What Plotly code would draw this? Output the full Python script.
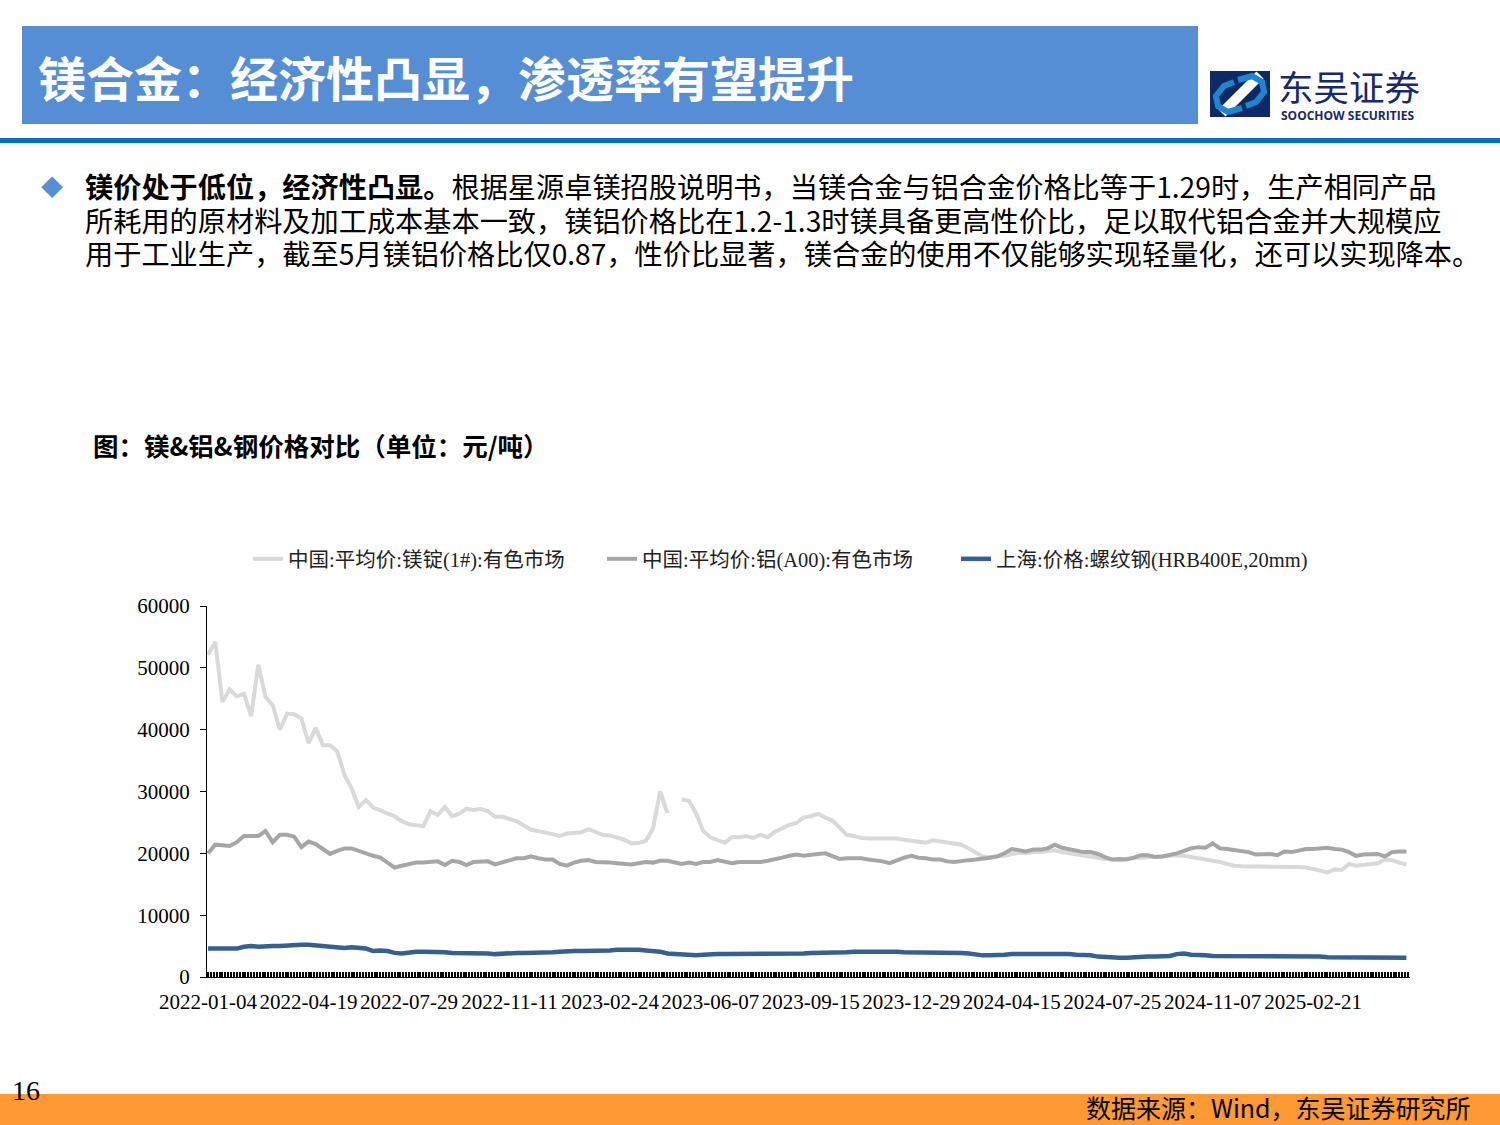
import plotly.graph_objects as go

# ---------------- data (sampled about every 5 trading days) ----------------
tick_labels = ["2022-01-04", "2022-04-19", "2022-07-29", "2022-11-11", "2023-02-24",
               "2023-06-07", "2023-09-15", "2023-12-29", "2024-04-15", "2024-07-25",
               "2024-11-07", "2025-02-21"]
samples_per_label = 14

mg_name = "中国:平均价:镁锭(1#):有色市场"
al_name = "中国:平均价:铝(A00):有色市场"
steel_name = "上海:价格:螺纹钢(HRB400E,20mm)"

mg_price = [
    52100, 54200, 44500, 46500, 45400, 45800, 42200, 50500, 45300, 44000,
    40000, 42600, 42500, 41800, 37800, 40300, 37500, 37500, 36500, 32700,
    30500, 27500, 28600, 27400, 27000, 26400, 26000, 25200, 24700, 24600,
    24400, 26800, 26200, 27500, 26000, 26400, 27200, 27000, 27200, 26800,
    25900, 25900, 25600, 25200, 24500, 23800, 23600, 23400, 23100, 22800,
    23200, 23300, 23400, 23900, 23500, 23000, 22900, 22500, 22200, 21600,
    21700, 22000, 24000, 30000, 26500, None, 28700, 28500, 26500, 23600,
    22600, 22200, 21700, 22600, 22600, 22800, 22500, 23000, 22600, 23500,
    24000, 24600, 24900, 25800, 26000, 26400, 25800, 25300, 24200, 23000,
    22800, 22500, 22400, 22400, 22400, 22400, 22400, 22200, 22000, 21800,
    21700, 22100, 21900, 21800, 21600, 21400, 20800, 20100, 19500, 19400,
    19500, 19600, 19900, 20100, 20000, 20200, 20200, 20300, 20500, 20200,
    20000, 19800, 19700, 19500, 19300, 19100, 19000, 18900, 19100, 19300,
    19300, 19400, 19500, 19600, 19700, 19700, 19600, 19400, 19300, 19100,
    18900, 18600, 18300, 18000, 17900, 17900, 17900, 17900, 17900, 17900,
    17900, 17900, 17800, 17700, 17500, 17200, 16900, 17400, 17300, 18300,
    18000, 18100, 18200, 18400, 19000, 18900, 18500, 18200,
]

al_price = [
    20000, 21400, 21300, 21200, 21800, 22800, 22800, 22800, 23600, 21800,
    23000, 23000, 22700, 21000, 21900, 21500, 20700, 19900, 20400, 20800,
    20800, 20400, 19900, 19600, 19300, 18500, 17700, 18000, 18200, 18500,
    18500, 18600, 18700, 18100, 18800, 18600, 18100, 18600, 18600, 18700,
    18200, 18500, 18900, 19200, 19200, 19500, 19200, 19000, 19000, 18300,
    18000, 18500, 18800, 18900, 18600, 18600, 18500, 18400, 18300, 18200,
    18400, 18600, 18500, 18800, 18800, 18600, 18300, 18500, 18300, 18600,
    18600, 18900, 18700, 18400, 18600, 18600, 18600, 18600, 18800, 19000,
    19300, 19600, 19800, 19600, 19800, 19900, 20000, 19500, 19100, 19200,
    19200, 19200, 19000, 18900, 18700, 18400, 18900, 19300, 19600, 19300,
    19200, 19000, 19000, 18700, 18600, 18800, 18900, 19000, 19100, 19300,
    19500, 20000, 20700, 20500, 20300, 20600, 20600, 20800, 21400, 20900,
    20700, 20400, 20200, 20200, 19900, 19400, 19000, 19100, 19000, 19300,
    19700, 19700, 19400, 19500, 19700, 20000, 20400, 20800, 21000, 20900,
    21600, 20800, 20700, 20500, 20400, 20200, 19800, 19800, 19900, 19700,
    20300, 20200, 20400, 20700, 20700, 20800, 20900, 20700, 20600, 20200,
    19600, 19800, 19900, 19900, 19500, 20200, 20300, 20300,
]

steel_price = [
    4600, 4600, 4600, 4600, 4600, 4900, 5000, 4900, 5000, 5000,
    5000, 5100, 5200, 5200, 5200, 5100, 5100, 5000, 4800, 4700,
    4800, 4700, 4600, 4200, 4300, 4200, 3900, 3800, 4000, 4100,
    4100, 4100, 4100, 4000, 3900, 3900, 3900, 3900, 3800, 3800,
    3700, 3800, 3800, 3900, 3900, 3900, 3900, 4000, 4000, 4100,
    4200, 4200, 4200, 4200, 4200, 4300, 4300, 4400, 4400, 4500,
    4400, 4300, 4200, 4100, 3800, 3700, 3700, 3600, 3500, 3600,
    3700, 3700, 3700, 3700, 3700, 3700, 3700, 3700, 3700, 3700,
    3700, 3800, 3800, 3800, 3900, 3900, 3900, 4000, 4000, 4000,
    4100, 4100, 4200, 4200, 4100, 4100, 4100, 4000, 4000, 4000,
    3900, 3900, 3900, 4000, 4000, 3900, 3800, 3600, 3500, 3500,
    3500, 3600, 3700, 3700, 3700, 3800, 3800, 3800, 3800, 3700,
    3700, 3600, 3600, 3500, 3300, 3200, 3100, 3100, 3100, 3200,
    3200, 3300, 3300, 3300, 3400, 3700, 3800, 3600, 3600, 3500,
    3400, 3400, 3400, 3400, 3400, 3400, 3400, 3300, 3300, 3300,
    3300, 3300, 3300, 3300, 3300, 3300, 3200, 3200, 3200, 3200,
    3200, 3200, 3200, 3200, 3100, 3100, 3100, 3100,
]

body_lines = [
    "<b>镁价处于低位，经济性凸显。</b>根据星源卓镁招股说明书，当镁合金与铝合金价格比等于1.29时，生产相同产品",
    "所耗用的原材料及加工成本基本一致，镁铝价格比在1.2-1.3时镁具备更高性价比，足以取代铝合金并大规模应",
    "用于工业生产，截至5月镁铝价格比仅0.87，性价比显著，镁合金的使用不仅能够实现轻量化，还可以实现降本。",
]

# ---------------- page geometry ----------------
W, H = 1500, 1125
L, R, T, B = 207, 90, 606, 148
PW, PH = W - L - R, H - T - B


def fx(px):
    return (px - L) / PW


def fy(py):
    return (H - B - py) / PH


def path_of(points):
    return "M " + " L ".join(f"{fx(x):.5f},{fy(y):.5f}" for x, y in points)


CJK = "Noto Sans CJK SC"
SERIF = "Liberation Serif, Noto Sans CJK SC"

fig = go.Figure()
fig.add_trace(go.Scatter(y=mg_price, name=mg_name, mode="lines",
                         line=dict(color="#D9D9D9", width=4)))
fig.add_trace(go.Scatter(y=al_price, name=al_name, mode="lines",
                         line=dict(color="#A6A6A6", width=4)))
fig.add_trace(go.Scatter(y=steel_price, name=steel_name, mode="lines",
                         line=dict(color="#376092", width=4.5)))

tick_pos = [i * samples_per_label for i in range(len(tick_labels))]

fig.update_xaxes(
    range=[-0.15, 167.5], tickmode="array", tickvals=tick_pos, ticktext=tick_labels,
    showline=True, linecolor="black", linewidth=1, showgrid=False, zeroline=False,
    ticks="inside", ticklen=5, tickwidth=2, tickcolor="black", tickangle=0,
    tickfont=dict(family="Liberation Serif", size=21, color="black"),
    ticklabelstandoff=6,
    minor=dict(ticks="inside", dtick=0.4, tick0=0, ticklen=5, tickwidth=2,
               tickcolor="black", showgrid=False),
)
fig.update_yaxes(
    range=[0, 60000], dtick=10000, tickformat="d",
    showline=True, linecolor="black", linewidth=1, showgrid=False, zeroline=False,
    ticks="outside", ticklen=6, tickcolor="black",
    tickfont=dict(family="Liberation Serif", size=21, color="black"),
    ticklabelstandoff=6,
)

shapes = [
    dict(type="rect", xref="paper", yref="paper", x0=fx(22), x1=fx(1198), y0=fy(124), y1=fy(26),
         fillcolor="#558ED5", line=dict(width=0), layer="below"),
    dict(type="rect", xref="paper", yref="paper", x0=fx(0), x1=fx(1500), y0=fy(143), y1=fy(138),
         fillcolor="#0070C0", line=dict(width=0)),
    dict(type="rect", xref="paper", yref="paper", x0=fx(0), x1=fx(1500), y0=fy(1125), y1=fy(1094),
         fillcolor="#FF9933", line=dict(width=0)),
    # logo icon
    dict(type="rect", xref="paper", yref="paper", x0=fx(1210), x1=fx(1270), y0=fy(117), y1=fy(71),
         fillcolor="#0E2A66", line=dict(width=0)),
    dict(type="path", xref="paper", yref="paper",
         path=path_of([(1222, 113), (1260, 75)]), line=dict(color="white", width=10)),
    dict(type="path", xref="paper", yref="paper",
         path=path_of([(1238, 80), (1252, 76), (1262, 82), (1264, 92), (1256, 102), (1246, 106)]),
         line=dict(color="#1C86CF", width=6)),
    dict(type="path", xref="paper", yref="paper",
         path=path_of([(1242, 108), (1228, 112), (1218, 106), (1216, 96), (1224, 86), (1234, 82)]),
         line=dict(color="#1C86CF", width=6)),
]


def ann(x, y, text, size, color="black", family=CJK, xanchor="left", yanchor="middle", height=None):
    d = dict(x=fx(x), y=fy(y), xref="paper", yref="paper", text=text, showarrow=False,
             xanchor=xanchor, yanchor=yanchor, align="left",
             font=dict(size=size, color=color, family=family))
    if height is not None:
        d["height"] = height
    return d


# one text block; a smaller base size gives the tighter line pitch of the slide
body_text = "<br>".join(f"<span style='font-size:28.2px'>{line}</span>" for line in body_lines)

annotations = [
    ann(36, 76, "<b>镁合金：经济性凸显，渗透率有望提升</b>", 48, "white"),
    ann(1276, 85, "东吴证券", 35.5, "#16296A", height=40),
    ann(1279, 115, "<b>SOOCHOW SECURITIES</b>", 12, "#16296A", "Open Sans", height=14),
    ann(52, 185, "◆", 22, "#558ED5", xanchor="center"),
    ann(83, 219, body_text, 25.8),
    ann(91, 444, "<b>图：镁&amp;铝&amp;钢价格对比（单位：元/吨）</b>", 25.5),
    ann(10, 1090, "16", 28, "black", "Liberation Serif"),
    ann(1473, 1107, "数据来源：Wind，东吴证券研究所", 25, xanchor="right", height=30),
]

fig.update_layout(
    width=W, height=H, autosize=False,
    margin=dict(l=L, r=R, t=T, b=B, pad=0),
    paper_bgcolor="white", plot_bgcolor="white",
    showlegend=True,
    legend=dict(orientation="h", x=fx(248), xanchor="left", y=fy(559), yanchor="middle",
                font=dict(family=SERIF, size=20.5, color="#222222"),
                entrywidth=309, bgcolor="rgba(0,0,0,0)"),
    shapes=shapes, annotations=annotations,
)

fig.write_html("out.html", config={"displayModeBar": False},
               post_script="document.body.style.margin='0px';document.body.style.overflow='hidden';")
